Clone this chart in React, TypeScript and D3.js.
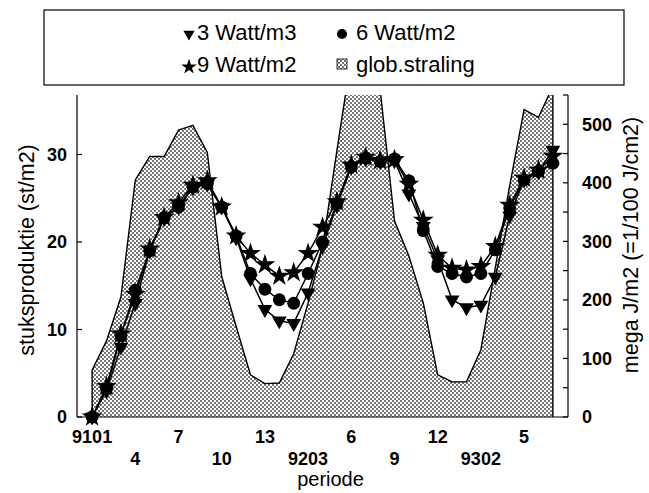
import React from "react";
import * as d3 from "d3";

const periods = d3.range(0, 33);
const tickIdx = [0, 3, 6, 9, 12, 15, 18, 21, 24, 27, 30];
const tickLabels = ["9101", "4", "7", "10", "13", "9203", "6", "9", "12", "9302", "5"];
const leftTicks = [0, 10, 20, 30];
const rightTicks = [0, 100, 200, 300, 400, 500];
const rightMinor = [0, 50, 100, 150, 200, 250, 300, 350, 400, 450, 500, 550];

const globStraling = [80, 130, 205, 405, 445, 445, 490, 498, 452, 240, 155, 72, 57, 58, 108, 195, 290, 455, 615, 620, 560, 335, 275, 195, 72, 60, 60, 115, 255, 395, 525, 512, 565];
const watt3 = [0, 3, 8, 13, 19, 22.7, 24, 26.2, 26.6, 24, 20.5, 15.8, 12.3, 11.0, 10.7, 14.2, 19.5, 24.2, 28.6, 29.5, 29.2, 29.3, 25.5, 21.8, 18.0, 13.4, 12.5, 12.8, 16.0, 23.0, 27.1, 28.0, 30.5];
const watt6 = [0, 3.2, 9.3, 14.5, 19, 22.8, 24, 26.3, 26.7, 24, 20.7, 16.4, 14.6, 13.4, 13.0, 16.4, 20.0, 24.4, 28.6, 29.6, 29.2, 29.5, 27.0, 21.3, 17.2, 16.4, 16.0, 16.4, 19.1, 23.9, 27.1, 28.1, 29.0];
const watt9 = [0, 3.5, 9.5, 14, 19.2, 22.8, 24.5, 26.5, 27, 24, 20.7, 18.7, 17.4, 16.1, 16.5, 18.7, 21.7, 24.6, 28.8, 29.7, 29.3, 29.4, 26.6, 22.5, 18.5, 17.0, 16.8, 17.2, 19.5, 24.2, 27.3, 28.2, 29.8];

const W = 649;
const H = 493;
const L = 77, R = 568, T = 95, B = 417;
const FONT = "'Liberation Sans', Arial, Helvetica, sans-serif";

export default function App() {
  const x = d3.scaleLinear().domain([-1.05, 33.05]).range([L, R]);
  const yL = d3.scaleLinear().domain([0, 36.8]).range([B, T]);
  const yR = d3.scaleLinear().domain([0, 550]).range([B, T]);

  const area = d3.area<number>()
    .x((_, i) => x(periods[i]))
    .y0(yR(0))
    .y1((d) => yR(d));
  const outlinePts: [number, number][] = [
    [x(periods[0]), yR(0)],
    ...globStraling.map((d, i) => [x(periods[i]), yR(d)] as [number, number]),
    [x(periods[periods.length - 1]), yR(0)],
  ];
  const line = d3.line<number>()
    .x((_, i) => x(periods[i]))
    .y((d) => yL(d));

  const tri = d3.symbol().type(d3.symbolTriangle).size(95)()!;
  const circ = d3.symbol().type(d3.symbolCircle).size(130)()!;
  const star = d3.symbol().type(d3.symbolStar).size(135)()!;
  const triS = d3.symbol().type(d3.symbolTriangle).size(55)()!;
  const circS = d3.symbol().type(d3.symbolCircle).size(80)()!;
  const starS = d3.symbol().type(d3.symbolStar).size(75)()!;

  const series = [
    { data: watt3, path: tri, rot: 180 },
    { data: watt6, path: circ, rot: 0 },
    { data: watt9, path: star, rot: 0 },
  ];

  return (
    <svg width={W} height={H} style={{ position: "absolute", left: 0, top: 0, background: "#fff" }} fontFamily={FONT}>
      <defs>
        <pattern id="dots" width="4" height="4" patternUnits="userSpaceOnUse">
          <rect width="4" height="4" fill="#fff" />
          <circle cx="1" cy="1" r="0.9" fill="#333" />
          <circle cx="3" cy="3" r="0.9" fill="#333" />
        </pattern>
        <clipPath id="plotclip">
          <rect x={L} y={T} width={R - L} height={B - T} />
        </clipPath>
      </defs>
      <rect x={0} y={0} width={W} height={H} fill="#fff" />

      {/* Legend */}
      <rect x={44} y={10} width={580} height={75} fill="none" stroke="#000" strokeWidth={1.2} />
      <path d={triS} transform={`translate(189,34) rotate(180)`} fill="#000" />
      <text x={197} y={40} fontSize={22} fill="#000">3 Watt/m3</text>
      <path d={circS} transform={`translate(342,34)`} fill="#000" />
      <text x={356} y={40} fontSize={22} fill="#000">6 Watt/m2</text>
      <path d={starS} transform={`translate(189,67)`} fill="#000" />
      <text x={197} y={72} fontSize={22} fill="#000">9 Watt/m2</text>
      <rect x={337} y={59} width={10} height={10} fill="url(#dots)" stroke="#000" strokeWidth={0.8} />
      <text x={356} y={72} fontSize={22} fill="#000">glob.straling</text>

      {/* radiation area */}
      <g clipPath="url(#plotclip)">
        <path d={area(globStraling)!} fill="url(#dots)" />
        <path d={d3.line()(outlinePts)!} fill="none" stroke="#000" strokeWidth={1.4} />
      </g>

      {/* series */}
      {series.map((s, k) => (
        <g key={k}>
          <path d={line(s.data)!} fill="none" stroke="#000" strokeWidth={1.5} />
          {s.data.map((d, i) => (
            <path key={i} d={s.path} fill="#000"
              transform={`translate(${x(periods[i])},${yL(d)}) rotate(${s.rot})`} />
          ))}
        </g>
      ))}

      {/* axes */}
      <line x1={L} x2={L} y1={T} y2={B} stroke="#000" strokeWidth={1.2} />
      <line x1={R} x2={R} y1={T} y2={B} stroke="#000" strokeWidth={1.2} />
      <line x1={L} x2={R} y1={B} y2={B} stroke="#000" strokeWidth={1.2} />
      {leftTicks.map((t) => (
        <g key={t}>
          <line x1={L} x2={L + 5} y1={yL(t)} y2={yL(t)} stroke="#000" strokeWidth={1.2} />
          <text x={67} y={yL(t)} dy="0.36em" textAnchor="end" fontSize={18} fontWeight="bold" fill="#000">{t}</text>
        </g>
      ))}
      {rightMinor.map((t) => (
        <line key={t} x1={R - 5} x2={R} y1={yR(t)} y2={yR(t)} stroke="#000" strokeWidth={1.2} />
      ))}
      {rightTicks.map((t) => (
        <text key={t} x={582} y={yR(t)} dy="0.36em" textAnchor="start" fontSize={18} fontWeight="bold" fill="#000">{t}</text>
      ))}
      {tickIdx.map((t, i) => (
        <text key={t} x={x(t)} y={i % 2 === 0 ? 443 : 465} textAnchor="middle" fontSize={18} fontWeight="bold" fill="#000">{tickLabels[i]}</text>
      ))}
      <text x={(L + R) / 2 + 8} y={486} textAnchor="middle" fontSize={20} fill="#000">periode</text>
      <text transform="translate(34,250) rotate(-90)" textAnchor="middle" fontSize={21.5} fill="#000">stuksproduktie (st/m2)</text>
      <text transform="translate(638,245) rotate(-90)" textAnchor="middle" fontSize={21.5} fill="#000">mega J/m2 (=1/100 J/cm2)</text>
    </svg>
  );
}
